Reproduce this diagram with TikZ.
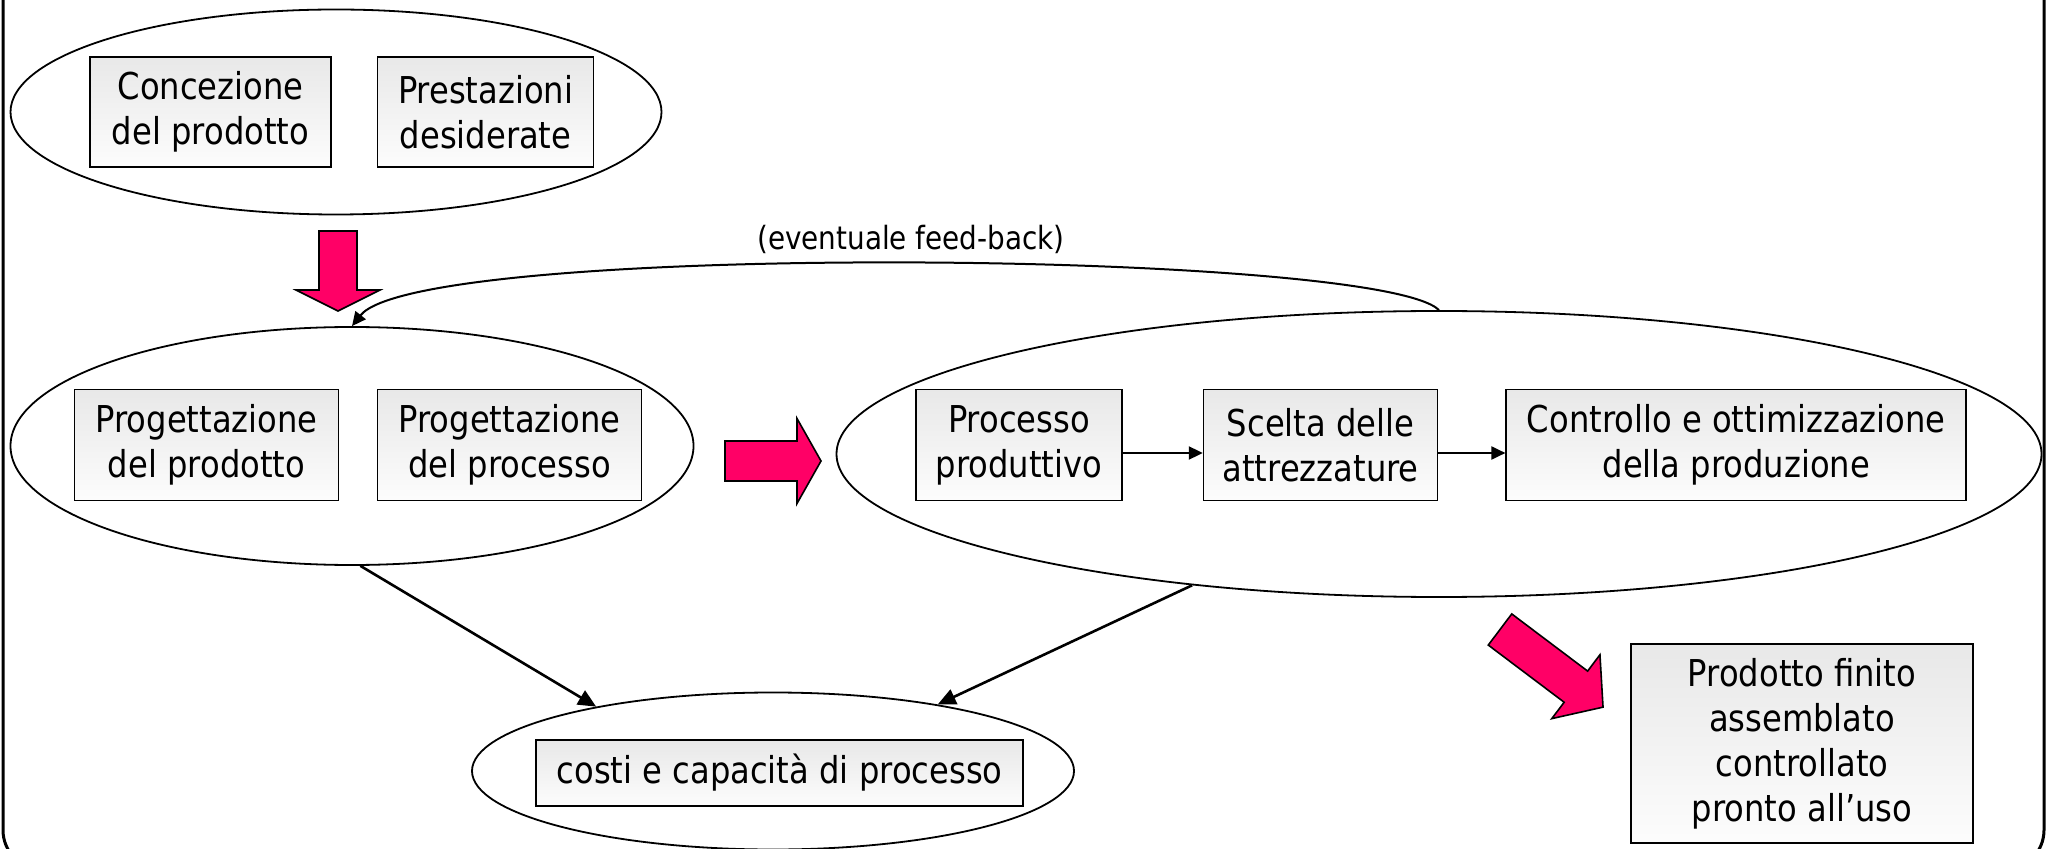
\documentclass[tikz,border=0pt]{standalone}
\usepackage{fontspec}
\setmainfont{DejaVu Sans}[FakeStretch=0.87]
\usetikzlibrary{shapes.geometric,backgrounds,positioning,arrows.meta}
\definecolor{arrowpink}{RGB}{255,0,102}

% block arrow: tail, angle, length, shaft width, head width, head length
\newcommand{\fatarrow}[6]{%
  \draw[fatarrow,shift={#1},rotate=#2]
    (0,-#4/2) -- (#3-#6,-#4/2) -- (#3-#6,-#5/2) -- (#3,0)
    -- (#3-#6,#5/2) -- (#3-#6,#4/2) -- (0,#4/2) -- cycle;}

\begin{document}
\begin{tikzpicture}[x=0.5pt,y=-0.5pt]
    % `box' is used for the grey text blocks.
    % `blob' is used for the ellipses grouping them.
    % `link' is used for the thin connectors, `fatarrow' for the pink ones.
    \tikzstyle{box} = [draw,line width=0.8pt,top color=gray!18,bottom color=gray!2,
                       align=center,inner sep=0pt,minimum height=55.5pt,
                       font=\fontsize{18.5}{22.5}\selectfont]
    \tikzstyle{blob} = [draw,ellipse,line width=0.9pt,inner sep=0pt]
    \tikzstyle{link} = [draw,line width=1pt,-{Triangle[length=7pt,width=6.5pt]}]
    \tikzstyle{fatarrow} = [draw=black,fill=arrowpink,line width=0.8pt,line join=miter]
    %
    \useasboundingbox (0,0) rectangle (2049,849);
    \draw[line width=1.5pt,rounded corners=20pt] (3,-40) rectangle (2044,870);
    %
    \begin{pgfonlayer}{background}
        % Ellipses round the groups.
      \node[blob,minimum width=325.5pt,minimum height=102.5pt] (econc) at (336,112) {};
      \node[blob,minimum width=341.5pt,minimum height=119pt] (edesign) at (352,446) {};
      \node[blob,minimum width=602.5pt,minimum height=143pt] (eprod) at (1439,454) {};
      \node[blob,minimum width=301pt,minimum height=78.5pt] (ecost) at (773,771) {};
    \end{pgfonlayer}
    %
    \node[box,minimum width=120.5pt,minimum height=55pt] (bconc) at (210.5,112) {Concezione\\del prodotto};
    \node[box,minimum width=108pt,minimum height=55pt,right=22.5pt of bconc] (bprest) {Prestazioni\\desiderate};
    %
    \node[box,minimum width=132pt] (bprogprod) at (206.5,445) {Progettazione\\del prodotto};
    \node[box,minimum width=132pt,right=18.75pt of bprogprod] (bprogproc) {Progettazione\\del processo};
    %
    \node[box,minimum width=103pt] (bproc) at (1019,445) {Processo\\produttivo};
    \node[box,minimum width=117pt,right=40pt of bproc] (bscelta) {Scelta delle\\attrezzature};
    \node[box,minimum width=230pt,right=33.5pt of bscelta] (bctrl) {Controllo e ottimizzazione\\della produzione};
    %
    \node[box,minimum width=243.5pt,minimum height=33pt] (bcost) at (779.5,773) {costi e capacità di processo};
    \node[box,minimum width=171pt,minimum height=99.5pt] (bfinal) at (1802,743.5) {Prodotto finito\\assemblato\\controllato\\pronto all’uso};
    %
    \node[font=\fontsize{16}{19}\selectfont] (lfeed) at (911,239) {(eventuale feed-back)};
    %
    % Connectors.
    \draw[link] ([yshift=-4pt]bproc.east) -- ([yshift=-4pt]bscelta.west);
    \draw[link] ([yshift=-4pt]bscelta.east) -- ([yshift=-4pt]bctrl.west);
    \draw[link] (eprod.north) .. controls +(-60,-60) and +(67,-85) .. (edesign.north);
    \draw[link,line width=1.3pt,-{Triangle[length=9pt,width=8pt]}] (edesign.-86) -- (ecost.160);
    \draw[link,line width=1.3pt,-{Triangle[length=9pt,width=8pt]}] (eprod.208) -- (ecost.22);
    %
    % Pink block arrows.
    \fatarrow{(338,231)}{-90}{80}{38}{84}{21}
    \fatarrow{(725,461)}{0}{96}{40}{85}{24}
    \fatarrow{(1500,629.5)}{-37}{129}{39}{80}{34}
\end{tikzpicture}
\end{document}
